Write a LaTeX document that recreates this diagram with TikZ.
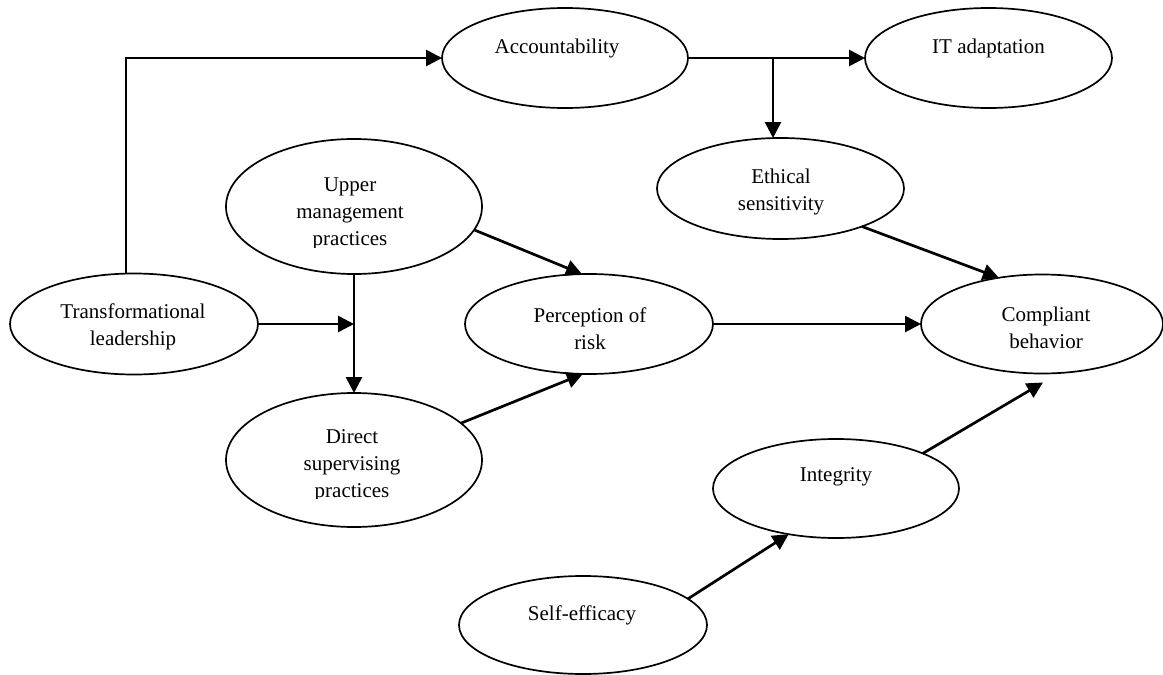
\documentclass[tikz,border=0pt]{standalone}
\usepackage{fontspec}
\setmainfont{Liberation Serif}
\usetikzlibrary{shapes.geometric,arrows.meta,calc}
\begin{document}
\begin{tikzpicture}[x=0.5pt,y=-0.5pt,
  ell/.style={draw, ellipse, line width=0.85pt, inner sep=0pt, outer sep=0pt},
  lbl/.style={align=center, inner sep=0pt, font=\fontsize{10.5}{13.5}\selectfont},
  conn/.style={line width=1.35pt, -{Triangle[length=8pt,width=8pt]}}
]
\fill[white] (0,0) rectangle (1163,675);
\useasboundingbox (0,0) rectangle (1163,675);

% ellipses
\node[ell, minimum width=123pt,   minimum height=50pt]   (acc)    at (565,58)      {};
\node[ell, minimum width=123.5pt, minimum height=50pt]   (it)     at (988.5,58)    {};
\node[ell, minimum width=123.5pt, minimum height=50.5pt] (eth)    at (780.5,188.5) {};
\node[ell, minimum width=128pt,   minimum height=67.5pt] (upper)  at (354,206.5)   {};
\node[ell, minimum width=128pt,   minimum height=67pt]   (direct) at (354,460)     {};
\node[ell, minimum width=124pt,   minimum height=50.5pt] (trans)  at (134,324)     {};
\node[ell, minimum width=124pt,   minimum height=50pt]   (perc)   at (589,324)     {};
\node[ell, minimum width=121pt,   minimum height=49.5pt] (comp)   at (1042,324)    {};
\node[ell, minimum width=123pt,   minimum height=49.5pt] (integ)  at (836,488.5)   {};
\node[ell, minimum width=124pt,   minimum height=49pt]   (self)   at (583,625)     {};

% labels
\node[lbl] (acct)   at (557,48)    {Accountability};
\node[lbl] (itt)    at (988.5,48)  {IT adaptation};
\node[lbl] (etht)   at (781,192)   {Ethical\\sensitivity};
\node[lbl] (transt) at (133,327)   {Transformational\\leadership};
\node[lbl] (perct)  at (590,329)   {Perception of\\risk};
\node[lbl] (compt)  at (1046,328)  {Compliant\\behavior};
\node[lbl] (integt) at (836,477)   {Integrity};
\node[lbl] (selft)  at (582,615)   {Self-efficacy};
\begin{scope}
  \clip (200,130) rectangle (500,247);
  \node[lbl] (uppert) at (350,213.5) {Upper\\management\\practices};
\end{scope}
\begin{scope}
  \clip (200,400) rectangle (500,498);
  \node[lbl] (directt) at (352,466) {Direct\\supervising\\practices};
\end{scope}

% connectors
\coordinate (br) at (773,58);
\draw[conn] (trans.99) |- (acc.west);
\draw[conn] (acc.east) -- (it.west);
\draw[conn] (br) -- (br |- eth.north);
\draw[conn] (upper.south) -- (direct.north);
\draw[conn] (trans.east) -- (trans.east -| upper.south);
\draw[conn] (upper.-11) -- (perc.98);
\draw[conn] (direct.19) -- (perc.-97);
\draw[conn] (perc.east) -- (comp.west);
\draw[conn] (eth.-25) -- (comp.133);
\draw[conn] (integ.22) -- ($(comp.south)+(1,9)$);
\draw[conn] (self.14) -- (integ.224);
\end{tikzpicture}
\end{document}
